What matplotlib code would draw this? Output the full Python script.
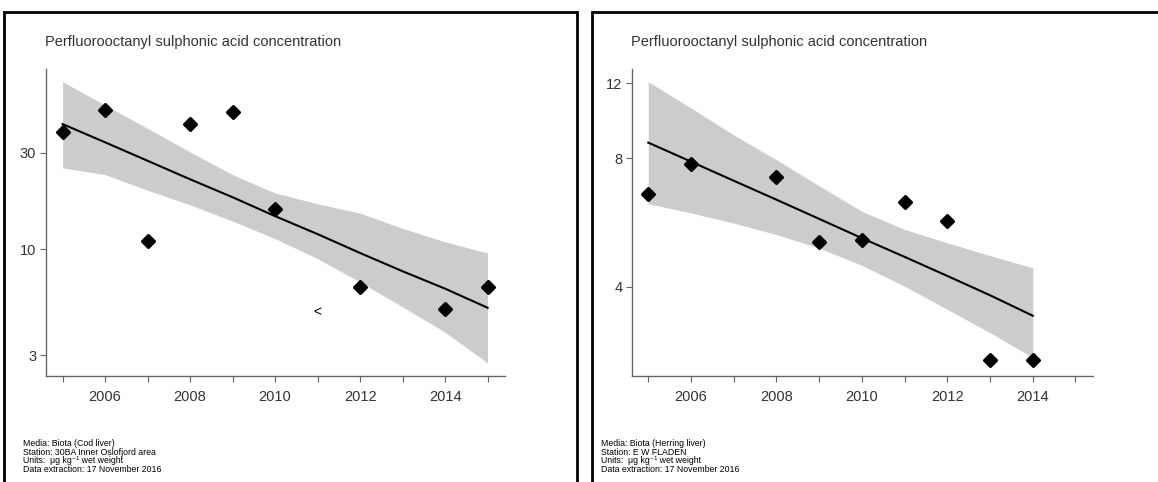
import matplotlib
matplotlib.use("Agg")
import matplotlib.pyplot as plt
from matplotlib.patches import Rectangle
from matplotlib.markers import MarkerStyle
from matplotlib.ticker import FixedLocator, FixedFormatter, NullFormatter, NullLocator

plt.rcParams['font.family'] = ['Liberation Sans', 'DejaVu Sans']

# ---------------- data ----------------
title = "Perfluorooctanyl sulphonic acid concentration"

# Left panel: Cod liver, 30BA Inner Oslofjord area
left_years = [2005, 2006, 2007, 2008, 2009, 2010, 2012, 2014, 2015]
left_values = [37.9, 48.9, 11.0, 41.7, 47.8, 15.9, 6.5, 5.1, 6.5]
left_lt_years = [2011]
left_lt_values = [4.9]
left_fit_years = [2005, 2006, 2007, 2008, 2009, 2010, 2011, 2012, 2013, 2014, 2015]
left_fit = [41.6, 33.8, 27.4, 22.2, 18.1, 14.6, 11.9, 9.6, 7.8, 6.4, 5.15]
left_upper = [67.3, 51.6, 39.6, 30.3, 23.4, 19.0, 16.8, 15.1, 12.7, 10.9, 9.6]
left_lower = [25.3, 23.4, 19.6, 16.6, 13.8, 11.3, 9.0, 6.9, 5.2, 3.9, 2.75]
left_yticks = [3, 10, 30]
left_footer = ["Media: Biota (Cod liver)",
               "Station: 30BA Inner Oslofjord area",
               "Units:  \u03bcg kg\u207b\u00b9 wet weight",
               "Data extraction: 17 November 2016"]

# Right panel: Herring liver, E W FLADEN
right_years = [2005, 2006, 2008, 2009, 2010, 2011, 2012, 2013, 2014]
right_values = [6.61, 7.78, 7.25, 5.10, 5.14, 6.31, 5.69, 2.69, 2.69]
right_fit_years = [2005, 2006, 2007, 2008, 2009, 2010, 2011, 2012, 2013, 2014]
right_fit = [8.71, 7.86, 7.09, 6.40, 5.77, 5.20, 4.70, 4.24, 3.82, 3.42]
right_upper = [12.1, 10.5, 9.08, 7.94, 6.90, 6.01, 5.45, 5.07, 4.73, 4.43]
right_lower = [6.26, 5.96, 5.64, 5.30, 4.93, 4.49, 4.01, 3.54, 3.12, 2.73]
right_yticks = [4, 8, 12]
right_footer = ["Media: Biota (Herring liver)",
                "Station: E W FLADEN",
                "Units:  \u03bcg kg\u207b\u00b9 wet weight",
                "Data extraction: 17 November 2016"]

xtick_major = [2006, 2008, 2010, 2012, 2014]
xtick_minor = [2005, 2007, 2009, 2011, 2013, 2015]

# ---------------- figure ----------------
W, H = 1158, 482
fig = plt.figure(figsize=(W / 100, H / 100), dpi=100)

def fx(px):
    return px / W

def fy(py):
    return 1 - py / H

# panel frames
fig.add_artist(Rectangle((fx(4), fy(520)), fx(577) - fx(4), fy(12) - fy(520),
                         transform=fig.transFigure, fill=False, edgecolor='black',
                         linewidth=2.0))
fig.add_artist(Rectangle((fx(592), fy(520)), fx(1200) - fx(592), fy(12) - fy(520),
                         transform=fig.transFigure, fill=False, edgecolor='black',
                         linewidth=2.0))

spine_col = '#666666'
text_col = '#333333'
marker = MarkerStyle('D', joinstyle='round')


def make_panel(ax, years, values, fit_years, fit, upper, lower, yticks, ylim, xlim,
               lt_years=None, lt_values=None):
    ax.fill_between(fit_years, lower, upper, color='#cccccc', linewidth=0, zorder=1)
    ax.plot(fit_years, fit, color='black', linewidth=1.5, zorder=2)
    ax.plot(years, values, linestyle='none', marker=marker, markersize=6.0,
            markeredgewidth=2.2, color='black', zorder=3)
    if lt_years:
        for x, v in zip(lt_years, lt_values):
            ax.text(x, v, "<", ha='center', va='center', fontsize=10, color='black')
    ax.set_yscale('log')
    ax.set_ylim(*ylim)
    ax.set_xlim(*xlim)
    ax.yaxis.set_major_locator(FixedLocator(yticks))
    ax.yaxis.set_major_formatter(FixedFormatter([str(t) for t in yticks]))
    ax.yaxis.set_minor_locator(NullLocator())
    ax.yaxis.set_minor_formatter(NullFormatter())
    ax.set_xticks(xtick_major)
    ax.set_xticklabels([str(t) for t in xtick_major])
    ax.set_xticks(xtick_minor, minor=True)
    for s in ['top', 'right']:
        ax.spines[s].set_visible(False)
    for s in ['left', 'bottom']:
        ax.spines[s].set_color(spine_col)
        ax.spines[s].set_linewidth(1.0)
    ax.tick_params(axis='both', which='both', direction='out', length=4, width=0.8,
                   color=spine_col, labelcolor=text_col, labelsize=10.5)
    ax.tick_params(axis='x', which='both', pad=6)
    ax.tick_params(axis='y', which='both', pad=3)


axL = fig.add_axes([fx(46), fy(376), fx(505) - fx(46), fy(69) - fy(376)])
make_panel(axL, left_years, left_values, left_fit_years, left_fit, left_upper,
           left_lower, left_yticks, (2.37, 77.8), (2004.61, 2015.41),
           left_lt_years, left_lt_values)

axR = fig.add_axes([fx(632), fy(376), fx(1093) - fx(632), fy(69) - fy(376)])
make_panel(axR, right_years, right_values, right_fit_years, right_fit, right_upper,
           right_lower, right_yticks, (2.47, 12.96), (2004.62, 2015.41))

# titles
fig.text(fx(45), fy(46), title, fontsize=10.5, color=text_col, ha='left', va='baseline')
fig.text(fx(631), fy(46), title, fontsize=10.5, color=text_col, ha='left', va='baseline')

# footers
for x0, lines in [(23, left_footer), (601, right_footer)]:
    for i, line in enumerate(lines):
        fig.text(fx(x0), fy(446 + i * 8.6), line, fontsize=6.3, color='black',
                 ha='left', va='baseline')

fig.savefig("out.png", dpi=100)
